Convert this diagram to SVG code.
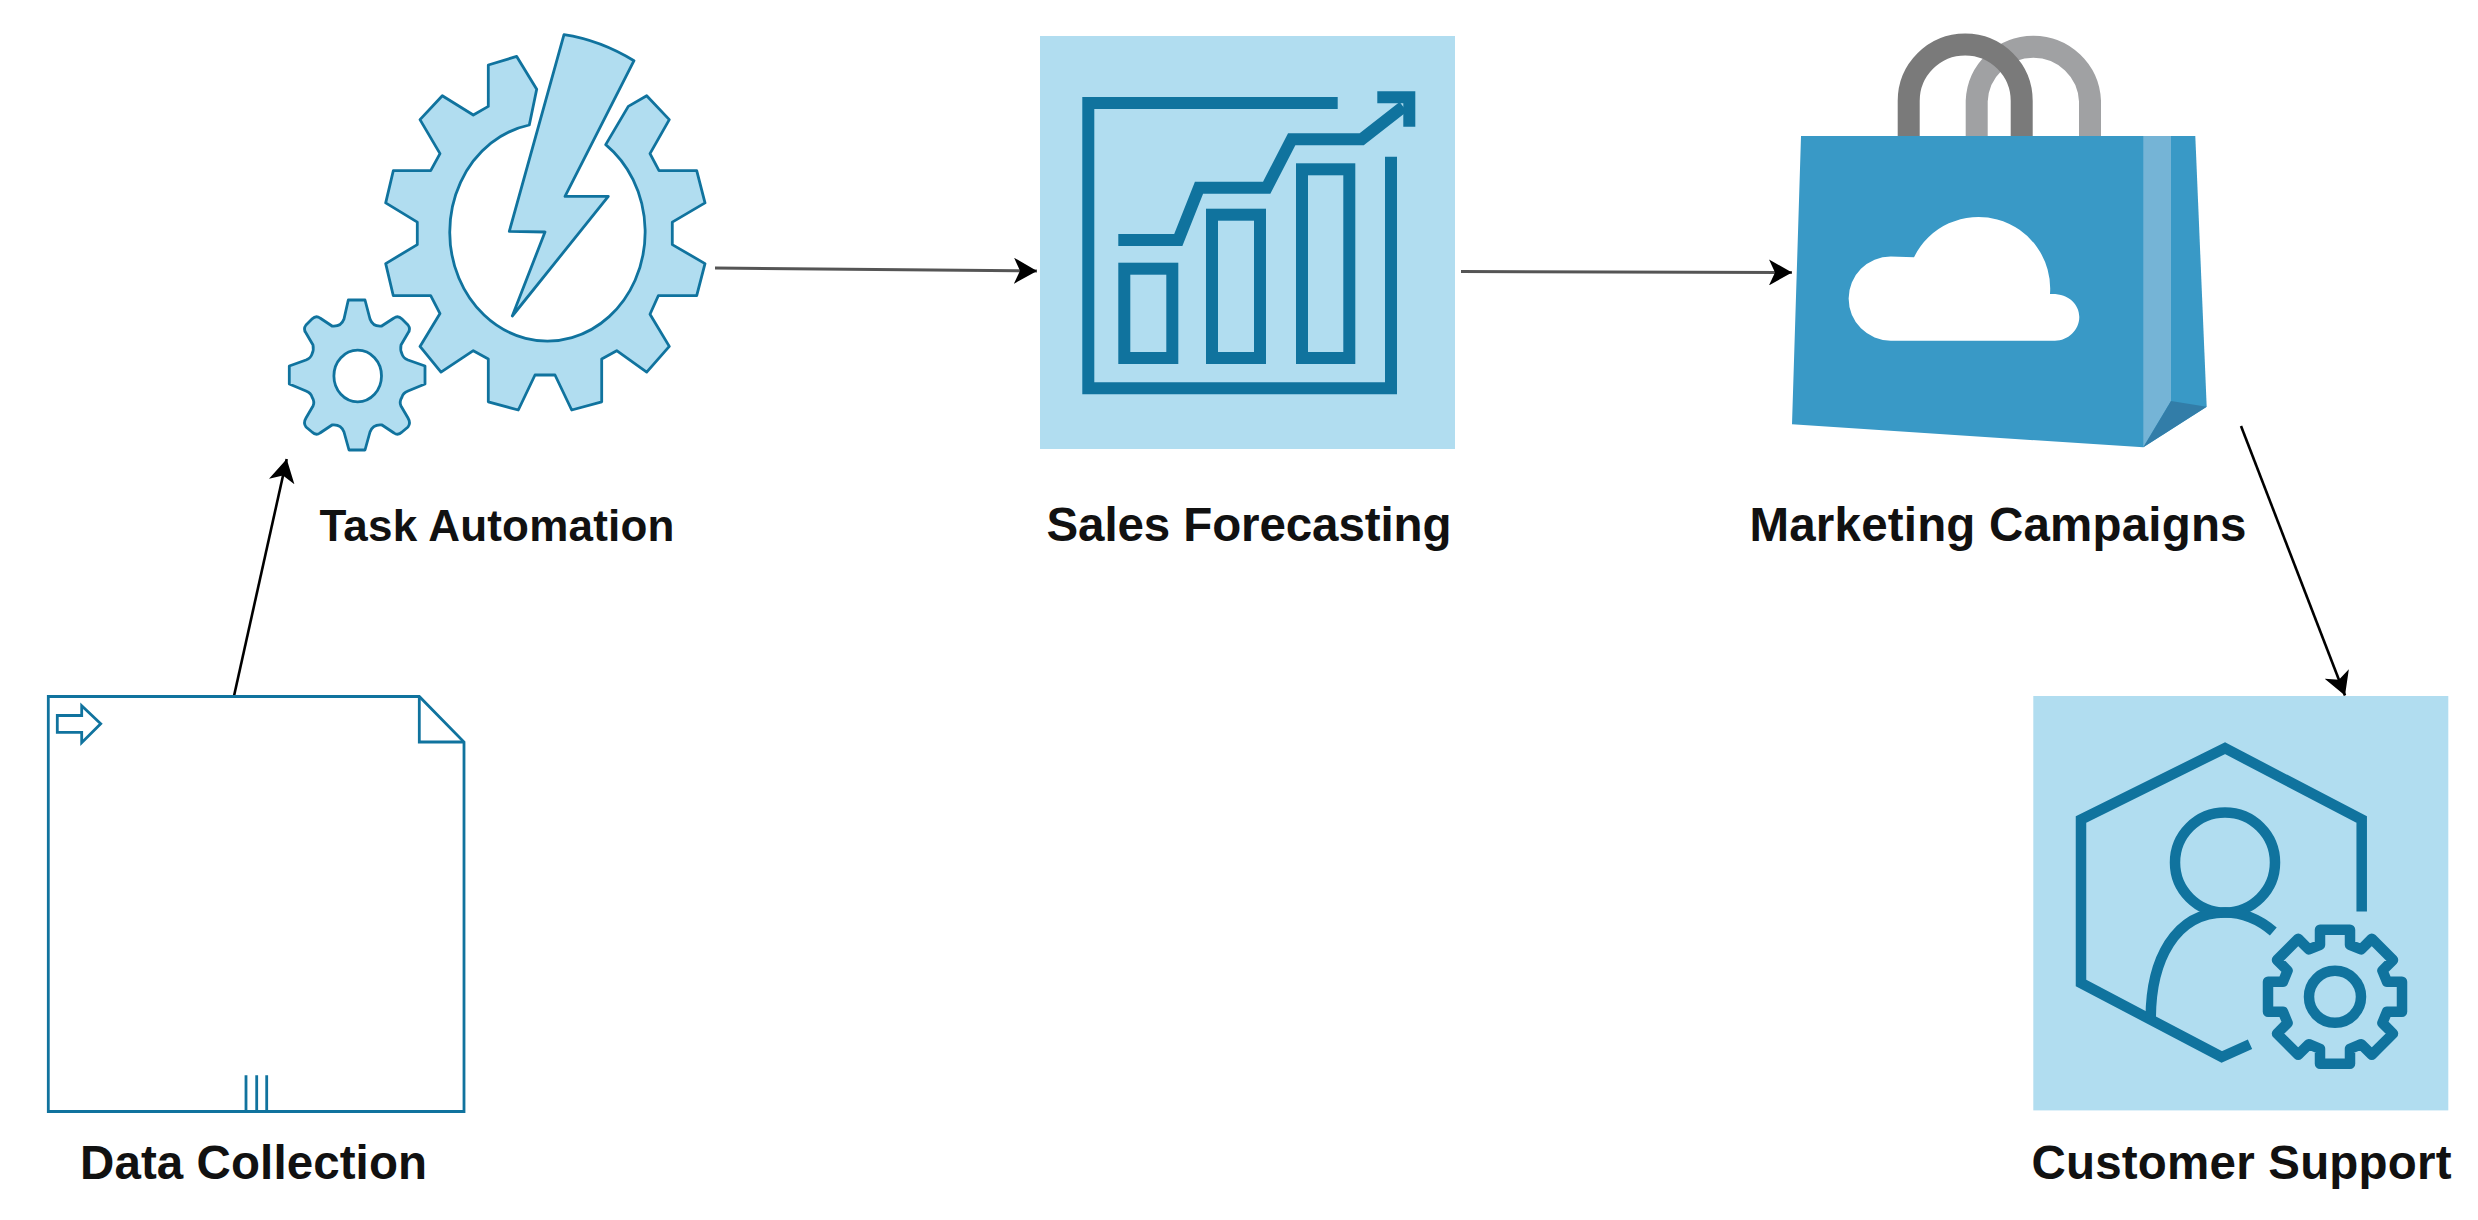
<svg xmlns="http://www.w3.org/2000/svg" width="2478" height="1220" viewBox="0 0 2478 1220">
<style>
.lbl{font-family:"Liberation Sans",Arial,sans-serif;font-weight:bold;font-size:47.5px;fill:#111;text-anchor:middle}
.tile{fill:#b1ddf0}
.ln{fill:none;stroke:#10739e;stroke-width:12;stroke-linejoin:miter}
.ln2{fill:none;stroke:#10739e;stroke-width:10.5;stroke-linejoin:miter}
.rnd{stroke-linejoin:round}
.thin{fill:#b1ddf0;stroke:#10739e;stroke-width:2.8;stroke-linejoin:round}
.doc{fill:none;stroke:#10739e;stroke-width:2.8}
.conn{fill:none;stroke:#000;stroke-width:2.6;marker-end:url(#head)}
.conn.h{stroke:#555;stroke-width:3}
</style>
<defs>
<marker id="head" markerUnits="userSpaceOnUse" viewBox="0 0 23 26" markerWidth="23" markerHeight="26" refX="23" refY="13" orient="auto"><path d="M23 13 L0 0 L6 13 L0 26 Z" fill="#000"/></marker>
</defs>
<rect width="2478" height="1220" fill="#fff"/>
<g id="connectors">
<path class="conn" d="M234 696 L286.7 459"/>
<path class="conn h" d="M715 268 L1037 271"/>
<path class="conn h" d="M1461 271.5 L1792 272.5"/>
<path class="conn" d="M2241 426 L2345 695.5"/>
</g>
<g id="task-automation">
<path class="thin" d="M529.3 125 L536.7 89.3 L516.7 56.4 L488.3 65 V106.4 L473.3 115 L442.3 95.7 L420 119.6 L440 153.6 L430.7 170.7 H393.3 L385.7 202.9 L417.3 222.1 V244.6 L385.7 263.6 L393.3 295.7 H430.7 L440 313.6 L420 346.4 L441 372.1 L473.3 350.7 L488.3 358.9 V401.8 L518.3 410 L535 375 H555 L571.7 410 L601.7 401.8 V358.9 L616.7 350.7 L646.7 372.1 L669.3 346.4 L650 314.3 L658.3 295.7 H696.7 L705 263.6 L672.3 244.6 V222.1 L705 202.9 L696.7 170.7 H659 L650 153.6 L669.3 119.6 L646.7 95.7 L628.3 106.4 L605.7 144.6 A97.7 109 0 1 1 529.3 125 Z"/>
<path class="thin" d="M564 34.6 Q600 40 634 60.7 L565 196.4 H608.3 L512.3 316 L545 232 L509.3 231.4 Z"/>
<path class="thin" fill-rule="evenodd" d="M348.3 300 H365 L370 319 Q373 327 381.7 326 L394 318 Q398 315 402 319 L408 325 Q411 329 408 333 L401 345 Q400 350 402 354 Q403 358 408 360 L425 366 V384 L408 391 Q403 393 402 397 Q399 402 401 406 L408 418 Q411 423 408 427 L402 432 Q398 436 394 433 L382 425 Q373 424 370 432 L365 450 H349 L344 432 Q341 424 332 425 L320 433 Q316 436 312 432 L306 427 Q303 423 306 418 L313 406 Q315 402 312 397 Q311 393 306 391 L289.3 384 V366 L306 360 Q311 358 312 354 Q314 350 313 345 L306 333 Q303 329 306 325 L312 319 Q316 315 320 318 L332 326 Q341 327 344 319 Z M381.5 376 A23.8 25.8 0 1 0 333.9 376 A23.8 25.8 0 1 0 381.5 376 Z"/>
<text class="lbl" style="font-size:44px" x="497" y="541" textLength="355">Task Automation</text>
</g>
<g id="sales-forecasting">
<rect class="tile" x="1040" y="36" width="415" height="413"/>
<path class="ln" d="M1337.7 103 H1088.3 V388.3 H1391 V156.7"/>
<rect class="ln" x="1124.3" y="268.7" width="48" height="89.3"/>
<rect class="ln" x="1212" y="214.7" width="48" height="143.3"/>
<rect class="ln" x="1302" y="169.3" width="47.3" height="188.7"/>
<path class="ln" d="M1118.3 240 H1178.3 L1199 187.7 H1266.7 L1291.7 139.3 H1361.7 L1403.3 106.7"/>
<path class="ln" d="M1377.3 97.3 H1409.3 V126.7"/>
<text class="lbl" x="1249" y="541" textLength="405">Sales Forecasting</text>
</g>
<g id="marketing-campaigns">
<path d="M1976.7 136 V101 A56.7 56.7 0 0 1 2090 101 V136" fill="none" stroke="#a0a1a3" stroke-width="22"/>
<path d="M1908.7 136 V101 A56.5 56.5 0 0 1 2021.7 101 V136" fill="none" stroke="#7a7a7a" stroke-width="22"/>
<path d="M1801 136 H2195.3 L2206.7 406.7 L2143.3 447.3 L1792 424.3 Z" fill="#3999c6"/>
<path d="M2143.3 136 H2171 V401 L2143.3 447.3 Z" fill="#75b4d6"/>
<path d="M2171 401 L2206.7 406.7 L2143.3 447.3 Z" fill="#327da8"/>
<path d="M1890.7 340.7 A42 42 0 0 1 1890.7 256.5 L1914 257.3 A71.7 71.7 0 0 1 2050 294 C2068 293 2079.3 304 2079.3 317 C2079.3 330 2068 340.7 2055 340.7 Z" fill="#fff"/>
<text class="lbl" x="1998" y="541" textLength="497">Marketing Campaigns</text>
</g>
<g id="customer-support">
<rect class="tile" x="2033.3" y="696" width="415" height="414.4"/>
<path class="ln2" d="M2361.7 911.4 V819.5 L2225 748.2 L2081 819.5 V983 L2221.7 1057 L2250 1044.3"/>
<circle class="ln2" cx="2225" cy="862.5" r="50"/>
<path class="ln2" d="M2150.7 1019 C2150.7 960 2175 912.4 2225 912.4 C2245 912.4 2260 920 2273.3 931.4"/>
<g transform="translate(2335 996.8)">
<path class="ln2 rnd" d="M-15 -67 H15 V-52 L26.2 -47.4 L36.8 -58 L58 -36.8 L47.4 -26.2 L52 -15 H67 V15 H52 L47.4 26.2 L58 36.8 L36.8 58 L26.2 47.4 L15 52 V67 H-15 V52 L-26.2 47.4 L-36.8 58 L-58 36.8 L-47.4 26.2 L-52 15 H-67 V-15 H-52 L-47.4 -26.2 L-58 -36.8 L-36.8 -58 L-26.2 -47.4 L-15 -52 Z"/>
<circle class="ln2" r="26"/>
</g>
<text class="lbl" x="2241.5" y="1179" textLength="420">Customer Support</text>
</g>
<g id="data-collection">
<path class="doc" style="fill:#fff" d="M48.3 696.5 H419.3 L464 742 V1111.5 H48.3 Z"/>
<path class="doc" d="M419.3 696.5 V742 H464"/>
<path class="doc" d="M57.3 715.5 H81.7 V705.8 L100.7 723.7 L81.7 742.7 V732.3 H57.3 Z"/>
<path class="doc" d="M246 1075.3 V1111.5 M256.7 1075.3 V1111.5 M266.7 1075.3 V1111.5"/>
<text class="lbl" x="253.5" y="1179" textLength="347">Data Collection</text>
</g>
</svg>
